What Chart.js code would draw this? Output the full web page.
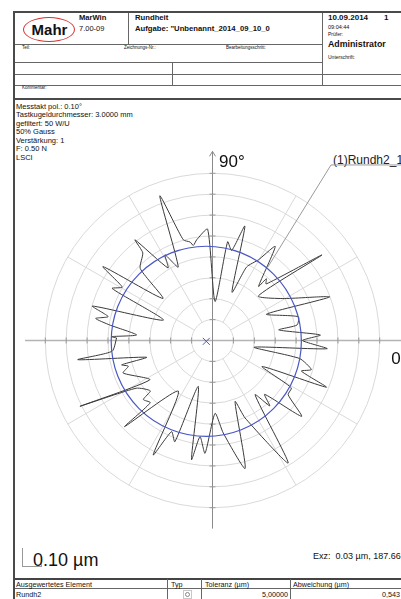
<!DOCTYPE html>
<html><head><meta charset="utf-8">
<script src="https://cdn.jsdelivr.net/npm/chart.js@4.4.1/dist/chart.umd.min.js"></script>
<style>
html,body{margin:0;padding:0;background:#fff;width:401px;height:599px;overflow:hidden;}
body{position:relative;font-family:"Liberation Sans",Arial,Helvetica,sans-serif;color:#111;}
.a{position:absolute;white-space:nowrap;line-height:1;}
.b{font-weight:bold;}
.h{position:absolute;background:#666;height:1px;}
.v{position:absolute;background:#666;width:1px;}
#c{position:absolute;left:15px;top:100px;}
</style></head><body>
<!-- frame -->
<div class="h" style="left:13px;top:11px;width:388px;height:2px;background:#4a4a4a"></div>
<div class="v" style="left:13px;top:11px;height:588px;width:2px;background:#4a4a4a"></div>
<div class="h" style="left:13px;top:98px;width:388px;height:2px;background:#4a4a4a"></div>
<div class="h" style="left:15px;top:44px;width:307px"></div>
<div class="h" style="left:15px;top:62px;width:307px"></div>
<div class="h" style="left:15px;top:74px;width:386px"></div>
<div class="h" style="left:15px;top:85px;width:386px"></div>
<div class="v" style="left:128px;top:13px;height:31px"></div>
<div class="v" style="left:322px;top:13px;height:72px"></div>
<div class="v" style="left:172px;top:62px;height:23px"></div>
<!-- header text -->
<div class="a" style="left:23px;top:16.5px;width:50px;height:23px;border:1.5px solid #d83030;border-radius:50%;"></div>
<div class="a b" style="left:23px;top:21.5px;width:53px;text-align:center;font-size:15px;">Mahr</div>
<div class="a b" style="left:79px;top:14px;font-size:7.6px;">MarWin</div>
<div class="a" style="left:79px;top:24.5px;font-size:7.5px;">7.00-09</div>
<div class="a b" style="left:135px;top:14px;font-size:7.7px;">Rundheit</div>
<div class="a b" style="left:135px;top:24.5px;font-size:7.7px;">Aufgabe: "Unbenannt_2014_09_10_0</div>
<div class="a b" style="left:328px;top:13.5px;font-size:8px;">10.09.2014</div>
<div class="a b" style="left:384px;top:13.5px;font-size:8px;">1</div>
<div class="a" style="left:328px;top:25px;font-size:5.5px;">09:04:44</div>
<div class="a" style="left:328px;top:32px;font-size:5px;">Prüfer:</div>
<div class="a b" style="left:328px;top:40px;font-size:8.8px;">Administrator</div>
<div class="a" style="left:328px;top:55px;font-size:5px;">Unterschrift:</div>
<div class="a" style="left:22px;top:45.5px;font-size:4.5px;">Teil:</div>
<div class="a" style="left:124px;top:45.5px;font-size:4.5px;">Zeichnungs-Nr.:</div>
<div class="a" style="left:226px;top:45.5px;font-size:4.5px;">Bearbeitungsschritt:</div>
<div class="a" style="left:22px;top:86px;font-size:4.5px;">Kommentar:</div>
<!-- info -->
<div class="a" style="left:16px;top:102.5px;font-size:7.5px;line-height:8.6px;">Messtakt pol.: 0.10°<br>Tastkugeldurchmesser: 3.0000 mm<br>gefiltert: 50 W/U<br>50% Gauss<br>Verstärkung: 1<br>F: 0.50 N<br>LSCI</div>
<!-- label -->
<div class="a" style="left:333px;top:154px;font-size:12px;color:#222">(1)Rundh2_1_</div>
<!-- bottom -->
<div class="a" style="left:313px;top:551.5px;font-size:9px;">Exz:&nbsp; 0.03 µm, 187.66°</div>
<div class="a" style="left:33px;top:551px;font-size:18px;">0.10 µm</div>
<div class="v" style="left:22px;top:548px;height:18px;background:#999"></div>
<div class="h" style="left:22px;top:566px;width:20px;background:#999"></div>
<div class="v" style="left:41px;top:564px;height:2px;background:#999"></div>
<!-- table -->
<div class="h" style="left:15px;top:578px;width:386px;height:1.5px;background:#444"></div>
<div class="h" style="left:15px;top:588px;width:386px;"></div>
<div class="v" style="left:167px;top:579px;height:20px"></div>
<div class="v" style="left:201px;top:579px;height:20px"></div>
<div class="v" style="left:290px;top:579px;height:20px"></div>
<div class="a" style="left:16px;top:580.5px;font-size:7.2px;">Ausgewertetes Element</div>
<div class="a" style="left:171px;top:580.5px;font-size:7.2px;">Typ</div>
<div class="a" style="left:205px;top:580.5px;font-size:7.2px;">Toleranz (µm)</div>
<div class="a" style="left:293px;top:580.5px;font-size:7.2px;">Abweichung (µm)</div>
<div class="a" style="left:16px;top:590.5px;font-size:7.2px;">Rundh2</div>
<div class="a" style="left:183px;top:590px;width:7px;height:7px;border:1px solid #c8c8c8;"><div style="position:absolute;left:1px;top:1px;width:3px;height:3px;border:1px solid #888;border-radius:50%"></div></div>
<div class="a" style="left:200px;width:88px;text-align:right;top:590.5px;font-size:7.2px;">5,00000</div>
<div class="a" style="left:300px;width:100px;text-align:right;top:590.5px;font-size:7.2px;">0,543</div>

<canvas id="c" width="386" height="476"></canvas>
<script>
// ---- data (radius in µm on the polar plot, angle in degrees) ----
const profileAngles = [178.5,177.8,175.8,171.4,169.3,167.1,164.0,157.4,152.6,149.4,146.0,139.7,135.1,128.5,127.6,121.5,119.0,115.0,110.0,106.2,102.8,101.4,98.9,92.5,
  86.3,81.3,78.0,74.2,68.0,65.1,60.3,56.3,49.6,48.9,46.5,38.0,44.2,30.8,20.4,26.0,15.5,10.4,9.1,2.9,0.0,-4.1,-9.2,
  -11.7,-16.4,-19.0,-22.3,-27.7,-31.0,-35.6,-40.4,-45.9,-48.8,-51.9,-58.3,-67.2,-69.7,-75.7,-83.4,-88.0,
  -93.8,-97.4,-100.0,-107.2,-110.4,-114.2,-117.4,-124.0,-135.6,-135.0,-139.5,-141.0,-148.0,-153.6,-147.9,-160.0,-163.0,-165.0,-165.7,-171.9,-173.9];
const profileRadii = [0.459,0.483,0.364,0.498,0.569,0.512,0.598,0.254,0.541,0.502,0.632,0.311,0.488,0.536,0.608,0.407,0.469,0.388,0.737,0.502,0.483,0.464,0.488,0.533,
  0.187,0.478,0.440,0.569,0.249,0.388,0.445,0.541,0.340,0.392,0.373,0.665,0.306,0.392,0.598,0.287,0.426,0.411,0.321,0.517,0.431,0.550,0.201,
  0.426,0.493,0.450,0.589,0.268,0.440,0.445,0.560,0.359,0.416,0.330,0.689,0.402,0.311,0.632,0.445,0.349,
  0.541,0.464,0.579,0.230,0.517,0.478,0.617,0.292,0.589,0.421,0.435,0.383,0.431,0.708,0.354,0.455,0.421,0.450,0.325,0.651,0.483];
const ringValues = [0.1,0.2,0.3,0.4,0.5,0.6,0.7,0.8];
const spokeAngles = [30,60,120,150,210,240,300,330];
const fitRadius = 0.455;          // LSCI circle
const eccValue = 0.03;            // Exz µm
const eccAngle = 187.66;          // Exz angle
const axisLabelY = "90°", axisLabelX = "0°";

// ---- layout constants ----
const PX = 209;                   // px per µm
const CX = 212.5 - 15, CY = 340.5 - 100, W = 386, H = 476;
const rad = d => d*Math.PI/180;
const polar = (a,r) => ({x: r*Math.cos(rad(a)), y: r*Math.sin(rad(a))});

const profilePts = profileAngles.map((a,i)=>polar(a, profileRadii[i]));
profilePts.push(profilePts[0]);

const leaderStart = {x:0.567, y:0.84};
const leaderEnd = polar(53, 0.44);

const polarGrid = {
  id:'polarGrid',
  beforeDatasetsDraw(chart){
    const {ctx, scales:{x,y}} = chart;
    const px = v=>x.getPixelForValue(v), py = v=>y.getPixelForValue(v);
    const cx = px(0), cy = py(0), u = px(1)-px(0);
    ctx.save();
    ctx.lineWidth = 1;
    ctx.strokeStyle = '#d9d9d9';
    ringValues.forEach(r=>{ctx.beginPath();ctx.arc(cx,cy,r*u,0,2*Math.PI);ctx.stroke();});
    const r0 = ringValues[0], r1 = ringValues[ringValues.length-1];
    spokeAngles.forEach(a=>{
      const p0=polar(a,r0), p1=polar(a,r1);
      ctx.beginPath();ctx.moveTo(px(p0.x),py(p0.y));ctx.lineTo(px(p1.x),py(p1.y));ctx.stroke();
    });
    // horizontal axis
    ctx.strokeStyle = '#b4b4b4'; ctx.lineWidth = 1.6;
    ctx.beginPath();ctx.moveTo(px(-0.897),py(0));ctx.lineTo(px(1.0),py(0));ctx.stroke();
    // vertical axis
    ctx.strokeStyle = '#8a8a8a'; ctx.lineWidth = 1;
    ctx.beginPath();ctx.moveTo(px(0),py(0.905));ctx.lineTo(px(0),py(-0.9));ctx.stroke();
    // arrow
    ctx.beginPath();ctx.moveTo(px(0)-3,py(0.905)+5);ctx.lineTo(px(0),py(0.905));ctx.lineTo(px(0)+3,py(0.905)+5);ctx.stroke();
    // ticks
    ctx.strokeStyle='#999';
    ringValues.forEach(r=>{
      [r,-r].forEach(v=>{
        ctx.beginPath();ctx.moveTo(px(v),py(0)-3);ctx.lineTo(px(v),py(0)+3);ctx.stroke();
        ctx.beginPath();ctx.moveTo(px(0)-3,py(v));ctx.lineTo(px(0)+3,py(v));ctx.stroke();
      });
    });
    // leader
    ctx.strokeStyle='#9a9a9a'; ctx.lineWidth=1;
    ctx.beginPath();ctx.moveTo(px(leaderEnd.x),py(leaderEnd.y));ctx.lineTo(px(leaderStart.x),py(leaderStart.y));ctx.lineTo(px(1.0),py(leaderStart.y));ctx.stroke();
    // labels
    ctx.fillStyle='#111';
    ctx.font='17px "Liberation Sans", Arial, sans-serif';
    ctx.textBaseline='alphabetic';
    ctx.fillText(axisLabelY, px(0)+6.5, py(0.905)+15.5);
    ctx.fillText(axisLabelX, px(0.855), py(0)+23);
    ctx.restore();
  },
  afterDatasetsDraw(chart){
    const {ctx, scales:{x,y}} = chart;
    const px = v=>x.getPixelForValue(v), py = v=>y.getPixelForValue(v);
    const c = polar(eccAngle, eccValue);
    const u = px(1)-px(0);
    ctx.save();
    ctx.strokeStyle='#4a57c4'; ctx.lineWidth=1.2;
    ctx.beginPath();ctx.arc(px(c.x),py(c.y),fitRadius*u,0,2*Math.PI);ctx.stroke();
    const s=3.5;
    ctx.lineWidth=1;
    ctx.beginPath();
    ctx.moveTo(px(c.x)-s,py(c.y)-s);ctx.lineTo(px(c.x)+s,py(c.y)+s);
    ctx.moveTo(px(c.x)-s,py(c.y)+s);ctx.lineTo(px(c.x)+s,py(c.y)-s);
    ctx.stroke();
    ctx.restore();
  }
};

new Chart(document.getElementById('c'), {
  type:'scatter',
  data:{datasets:[{
    data: profilePts, showLine:true, pointRadius:0, borderColor:'#3a3a3a', borderWidth:1, tension:0.2, fill:false
  }]},
  options:{
    responsive:false, animation:false, events:[],
    layout:{padding:0},
    plugins:{legend:{display:false}, tooltip:{enabled:false}},
    scales:{
      x:{type:'linear', display:false, min:-CX/PX, max:(W-CX)/PX},
      y:{type:'linear', display:false, min:-(H-CY)/PX, max:CY/PX}
    }
  },
  plugins:[polarGrid]
});
</script>
</body></html>
